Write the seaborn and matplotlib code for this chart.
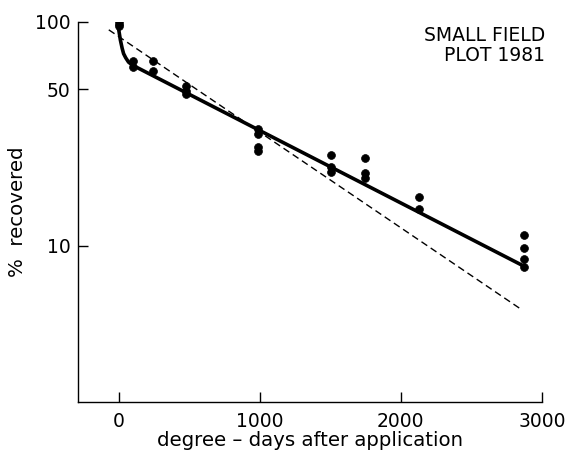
import seaborn as sns
import matplotlib.pyplot as plt
import pandas as pd

# observed recoveries (% of applied) vs degree-days
obs_x = [0, 0, 0, 0, 105, 105, 245, 245, 480, 480, 480,
         990, 990, 990, 990, 1505, 1505, 1505, 1745, 1745, 1745,
         2130, 2130, 2875, 2875, 2875, 2875]
obs_y = [104, 101, 98, 96, 66.5, 63, 66.7, 60.5, 51.5, 49, 47.5,
         33, 31.5, 27.5, 26.5, 25.3, 22.4, 21.3, 24.7, 21, 20,
         16.4, 14.6, 11.2, 9.7, 8.7, 8.0]

# fitted biphasic curve (solid)
fit_x = [-5, 12, 25, 35, 50, 70, 90, 118, 2870]
fit_y = [97, 83, 76, 72, 69, 66, 64.5, 63, 8.1]

# single first-order fit (dashed)
lin_x = [-70, 2860]
lin_y = [92, 5.15]

df_obs = pd.DataFrame({'x': obs_x, 'y': obs_y})
df_fit = pd.DataFrame({'x': fit_x, 'y': fit_y})
df_lin = pd.DataFrame({'x': lin_x, 'y': lin_y})

sns.set_style('ticks')
plt.rcParams['font.family'] = ['DejaVu Sans']
plt.rcParams['text.color'] = 'black'
plt.rcParams['axes.labelcolor'] = 'black'

fig = plt.figure(figsize=(5.69, 4.58), dpi=100)
ax = fig.add_axes([0.1366, 0.1223, 0.8159, 0.8303])

sns.lineplot(data=df_lin, x='x', y='y', ax=ax, color='black', lw=1.0,
             dashes=False, linestyle=(0, (5, 3)))
sns.lineplot(data=df_fit, x='x', y='y', ax=ax, color='black', lw=2.6)
sns.scatterplot(data=df_obs, x='x', y='y', ax=ax, color='black', s=32,
                edgecolor='black', linewidth=0.5, zorder=5)

ax.set_yscale('log')
ax.set_xlim(-290, 3000)
ax.set_ylim(2, 100)
ax.set_xticks([0, 1000, 2000, 3000])
ax.set_yticks([10, 50, 100])
ax.set_yticklabels(['10', '50', '100'])
ax.yaxis.set_minor_locator(plt.NullLocator())
ax.tick_params(direction='in', length=7, width=1, labelsize=13.5,
               colors='black', labelcolor='black')
ax.tick_params(axis='x', pad=7)
ax.tick_params(axis='y', pad=5)
for s in ['left', 'bottom']:
    ax.spines[s].set_linewidth(1)
    ax.spines[s].set_color('black')
sns.despine(ax=ax)

ax.set_xlabel('degree – days after application', fontsize=14.2, labelpad=0,
              color='black')
ax.set_ylabel('%  recovered', fontsize=14.2, color='black')
ax.yaxis.set_label_coords(-0.109, 0.5)

ax.text(1.007, 0.99, 'SMALL FIELD\nPLOT 1981', transform=ax.transAxes,
        ha='right', va='top', fontsize=13.5, linespacing=1.1, color='black')

fig.savefig('out.png', dpi=100)
